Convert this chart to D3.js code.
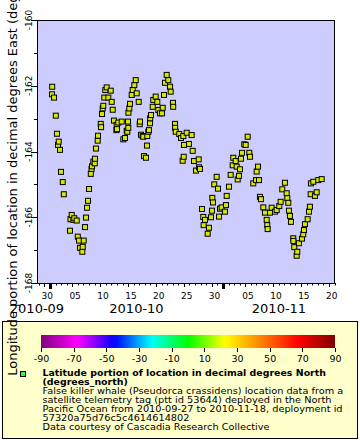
<!DOCTYPE html>
<html><head><meta charset="utf-8">
<script src="https://cdn.jsdelivr.net/npm/d3@7"></script>
<style>
body{margin:0;background:#fff}
svg{display:block}
text{font-family:"DejaVu Sans",sans-serif;fill:#000}
</style>
</head><body>
<svg id="chart" width="360" height="440"></svg>
<script>
// ---- data (days since 2010-10-01T00:00Z, longitude in degrees East) ----
const dayOffsets = [
0.36,0.39,0.72,1.04,1.25,1.43,1.56,1.79,1.97,2.28,2.47,3.58,3.67,3.89,4.18,4.35,4.78,4.98,5.20,5.38,
5.79,5.86,6.04,6.27,6.45,6.63,6.81,6.99,7.31,7.44,7.53,7.76,8.02,8.06,8.24,8.55,8.60,9.09,9.15,9.32,
9.44,9.55,9.73,9.91,10.16,10.45,10.88,11.06,11.24,11.47,11.90,11.95,12.01,12.24,12.85,13.14,13.44,13.75,13.85,13.98,
14.03,14.05,14.21,14.34,14.64,14.82,15.11,15.36,15.54,15.90,16.08,16.13,16.31,16.61,16.72,16.85,17.20,17.38,17.44,17.62,
17.74,17.92,17.95,18.10,18.41,18.51,18.94,19.23,19.41,19.71,20.07,20.20,20.43,20.61,20.91,21.20,21.51,21.63,22.04,22.08,
22.40,22.42,22.53,23.17,23.48,23.78,23.89,23.96,24.01,24.50,24.91,25.39,25.57,25.81,26.16,26.65,26.70,26.88,27.24,27.47,
27.54,27.78,28.26,28.49,28.85,29.03,29.09,29.21,29.44,29.87,30.11,30.29,30.47,30.77,31.36,31.54,31.67,32.08,32.38,32.74,
32.85,33.28,33.46,33.64,33.87,34.05,34.23,34.41,34.82,35.07,35.43,35.72,35.84,36.43,36.92,37.04,37.28,37.46,37.63,37.81,
38.23,38.53,38.84,38.94,39.01,39.43,39.73,40.32,40.63,41.09,41.34,41.63,42.11,42.42,42.53,42.71,42.83,43.01,43.19,43.60,
43.62,43.78,44.21,44.32,44.62,45.16,45.39,45.52,45.70,46.18,46.42,46.59,46.72,46.77,47.19,47.49,47.80,48.08,48.69
];
const longitudes = [
-162.26,-162.03,-162.36,-162.91,-163.46,-163.80,-163.70,-163.95,-164.62,-164.93,-165.30,-166.41,-166.06,-165.93,-166.08,-166.03,-166.10,-166.59,-166.71,-166.93,
-167.05,-166.90,-166.71,-166.30,-166.01,-165.71,-165.50,-165.14,-164.68,-164.53,-164.45,-164.31,-164.36,-164.22,-163.91,-163.67,-163.52,-163.16,-163.26,-162.86,
-162.69,-162.61,-162.36,-162.13,-162.05,-162.36,-162.15,-162.49,-162.73,-163.06,-163.35,-163.19,-163.32,-163.12,-163.09,-163.63,-163.59,-163.37,-163.40,-163.09,
-163.28,-162.82,-162.69,-162.55,-162.28,-162.13,-161.98,-161.83,-162.23,-162.49,-163.17,-163.09,-163.49,-163.53,-163.55,-164.14,-164.19,-163.82,-163.53,-163.40,
-163.35,-163.14,-162.99,-162.89,-162.64,-162.43,-162.33,-162.49,-162.74,-162.84,-162.84,-162.67,-162.28,-161.91,-161.67,-161.83,-162.03,-162.18,-162.52,-162.64,
-163.16,-163.28,-163.40,-163.47,-163.59,-164.28,-163.53,-164.16,-163.80,-163.43,-163.77,-163.50,-163.98,-164.29,-164.58,-164.24,-164.48,-164.53,-165.75,-165.99,
-166.24,-166.08,-166.50,-166.32,-166.00,-165.80,-165.41,-165.55,-165.00,-164.77,-165.13,-165.98,-165.74,-165.70,-165.83,-165.63,-165.35,-165.07,-164.71,-164.42,
-164.19,-164.29,-164.46,-164.85,-164.74,-164.54,-164.22,-164.04,-163.78,-163.80,-163.55,-164.04,-164.16,-164.97,-164.87,-164.61,-164.46,-164.87,-165.38,-165.45,
-165.70,-165.86,-166.08,-166.24,-166.36,-165.86,-165.71,-165.83,-165.78,-165.66,-165.53,-165.15,-164.95,-165.27,-165.42,-165.56,-165.80,-165.96,-166.14,-166.64,
-166.72,-166.91,-167.17,-167.05,-166.79,-166.65,-166.52,-166.39,-166.21,-166.06,-165.83,-165.68,-165.30,-164.97,-164.92,-165.35,-165.24,-164.87,-164.84
];
const timeDomain = ["2010-09-28T16:00:00Z", "2010-11-21T02:00:00Z"];
const lonDomain = [-168, -160];
const yMajorTicks = [-168, -166, -164, -162, -160];
const colorbarTicks = [-90, -70, -50, -30, -10, 10, 30, 50, 70, 90];
const colorbarDomain = [-90, 90];
const rainbowStops = ["#800080","#ff00ff","#0000ff","#00ffff","#00ff00","#ffff00","#ff8000","#ff0000","#800000"];
const yLabel = "Longitude portion of location in decimal degrees East (degrees_east)";
const legendTitle = ["Latitude portion of location in decimal degrees North", "(degrees_north)"];
const legendLines = [
  "False killer whale (Pseudorca crassidens) location data from a",
  "satellite telemetry tag (ptt id 53644) deployed in the North",
  "Pacific Ocean from 2010-09-27 to 2010-11-18, deployment id",
  "57320a75d76c5c4614614802",
  "Data courtesy of Cascadia Research Collective"
];

// ---- layout ----
const svg = d3.select("#chart");
const L = 37, R = 335, T = 20, B = 283;
const oct1 = Date.UTC(2010, 9, 1);
const points = dayOffsets.map((d, i) => ({t: new Date(oct1 + d * 864e5), lon: longitudes[i]}));

const x = d3.scaleUtc().domain(timeDomain.map(s => new Date(s))).range([L, R]);
const y = d3.scaleLinear().domain(lonDomain).range([B, T]);

svg.append("rect").attr("width", 360).attr("height", 440).attr("fill", "#fff");
svg.append("rect").attr("x", L).attr("y", T).attr("width", R - L).attr("height", B - T).attr("fill", "#ccccff");

// points
svg.append("g").selectAll("rect").data(points).join("rect")
  .attr("x", d => x(d.t) - 2.5).attr("y", d => y(d.lon) - 2.5)
  .attr("width", 5).attr("height", 5)
  .attr("fill", "#d6e800").attr("stroke", "#000").attr("stroke-width", 1);

// frame
svg.append("rect").attr("x", L + 0.5).attr("y", T + 0.5).attr("width", R - L - 1).attr("height", B - T)
  .attr("fill", "none").attr("stroke", "#000").attr("stroke-width", 1);

// y axis
const yMinor = d3.range(lonDomain[0], lonDomain[1] + 1, 1);
const yAx = svg.append("g");
yAx.selectAll("line.minor").data(yMinor).join("line")
  .attr("x1", L - 3).attr("x2", L).attr("y1", d => Math.round(y(d)) + 0.5).attr("y2", d => Math.round(y(d)) + 0.5)
  .attr("stroke", "#000");
yAx.selectAll("line.major").data(yMajorTicks).join("line")
  .attr("x1", L - 6).attr("x2", L).attr("y1", d => Math.round(y(d)) + 0.5).attr("y2", d => Math.round(y(d)) + 0.5)
  .attr("stroke", "#000");
yAx.selectAll("text").data(yMajorTicks).join("text")
  .attr("transform", d => `translate(31.5,${y(d)}) rotate(-90)`)
  .attr("text-anchor", "middle").attr("font-size", 9).text(d => d);

// x axis
const days = d3.utcDay.range(x.domain()[0], x.domain()[1]);
const xAx = svg.append("g");
xAx.selectAll("line.day").data(days).join("line")
  .attr("x1", d => Math.round(x(d)) + 0.5).attr("x2", d => Math.round(x(d)) + 0.5)
  .attr("y1", B).attr("y2", d => d.getUTCDate() % 5 === 0 && d.getUTCDate() < 31 ? B + 4 : B + 2.5)
  .attr("stroke", "#000");
const months = d3.utcMonth.range(x.domain()[0], x.domain()[1]);
xAx.selectAll("rect.month").data(months).join("rect")
  .attr("x", d => Math.round(x(d)) - 1).attr("y", B).attr("width", 3).attr("height", 6).attr("fill", "#000");
const labelDays = days.filter(d => d.getUTCDate() % 5 === 0 && d.getUTCDate() < 31);
xAx.selectAll("text.day").data(labelDays).join("text")
  .attr("x", d => x(d3.utcHour.offset(d, 12))).attr("y", 299)
  .attr("text-anchor", "middle").attr("font-size", 9).text(d3.utcFormat("%d"));
const monthStarts = [d3.utcMonth.floor(x.domain()[0]), ...months];
xAx.selectAll("text.month").data(monthStarts).join("text")
  .attr("x", d => {
    const a = Math.max(L, x(d)), b = Math.min(R, x(d3.utcMonth.offset(d, 1)));
    return (b - a) < 40 ? L : (a + b) / 2;
  })
  .attr("y", 313).attr("text-anchor", "middle").attr("font-size", 13)
  .text(d3.utcFormat("%Y-%m"));

// legend box
svg.append("rect").attr("x", 2.5).attr("y", 321.5).attr("width", 355).attr("height", 117)
  .attr("fill", "#ffffcc").attr("stroke", "#000");

// colorbar
const cbX = d3.scaleLinear().domain(colorbarDomain).range([41, 335]);
const color = d3.scaleLinear()
  .domain(rainbowStops.map((_, i) => colorbarDomain[0] + i * (colorbarDomain[1] - colorbarDomain[0]) / (rainbowStops.length - 1)))
  .range(rainbowStops);
const grad = svg.append("defs").append("linearGradient").attr("id", "rb");
d3.range(0, 1.0001, 0.02).forEach(f => {
  grad.append("stop").attr("offset", f).attr("stop-color", color(colorbarDomain[0] + f * 180));
});
svg.append("rect").attr("x", 41).attr("y", 335).attr("width", 294).attr("height", 13).attr("fill", "url(#rb)");
svg.append("g").selectAll("line").data(colorbarTicks).join("line")
  .attr("x1", d => Math.round(cbX(d)) + 0.5).attr("x2", d => Math.round(cbX(d)) + 0.5)
  .attr("y1", 348).attr("y2", 352).attr("stroke", "#000");
svg.append("g").selectAll("text").data(colorbarTicks).join("text")
  .attr("x", d => cbX(d) + 0.5).attr("y", 361.5).attr("text-anchor", "middle").attr("font-size", 9.5).text(d => d);

// legend entry
const lineGap = 9;
svg.append("rect").attr("x", 20.5).attr("y", 371.5).attr("width", 5).attr("height", 5)
  .attr("fill", "#44ee44").attr("stroke", "#000");
legendTitle.forEach((s, i) => svg.append("text")
  .attr("transform", `translate(42.5,${375.5 + i * lineGap}) scale(1.07,1)`)
  .attr("font-size", 8.8).attr("font-weight", "bold").text(s));
legendLines.forEach((s, i) => svg.append("text")
  .attr("transform", `translate(42.5,${375.5 + (i + 2) * lineGap}) scale(1.11,1)`)
  .attr("font-size", 8.8).text(s));

// y label (drawn last, on top; clipped at the top edge as in the reference)
svg.append("text").attr("transform", `translate(16.5,${(T + B) / 2}) rotate(-90)`)
  .attr("text-anchor", "middle").attr("font-size", 13).text(yLabel);
</script>
</body></html>
